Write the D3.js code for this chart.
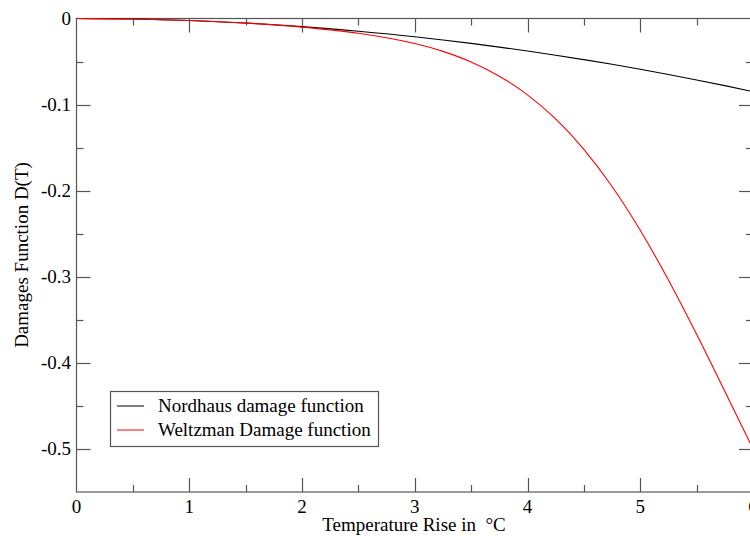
<!DOCTYPE html>
<html>
<head>
<meta charset="utf-8">
<script src="https://cdn.jsdelivr.net/npm/d3@7"></script>
<style>
  body { margin: 0; background: #fff; }
  text { font-family: "Liberation Serif", "Times New Roman", serif; }
</style>
</head>
<body>
<script>
// temperature rise (deg C) sampled along the curves
var temps = [0, 0.5, 1, 1.5, 2, 2.5, 3, 3.25, 3.5, 3.75, 4, 4.25, 4.5, 4.75, 5, 5.25, 5.5, 5.75, 6];
// values
var nordhaus = [0, -0.0006, -0.0024, -0.0053, -0.0094, -0.0148, -0.0212, -0.0249, -0.0289, -0.0332, -0.0378, -0.0426, -0.0478, -0.0532, -0.059, -0.0651, -0.0714, -0.078, -0.085];
var weitzman = [0, -0.0006, -0.0024, -0.0054, -0.0100, -0.0171, -0.0291, -0.0382, -0.0505, -0.067, -0.0887, -0.1167, -0.152, -0.1951, -0.246, -0.3038, -0.3669, -0.4331, -0.4999];
var xTicks = [0, 1, 2, 3, 4, 5, 6];
var yTicks = [0, -0.1, -0.2, -0.3, -0.4, -0.5];
var yTickLabels = ["0", "-0.1", "-0.2", "-0.3", "-0.4", "-0.5"];
var seriesNames = ["Nordhaus damage function", "Weltzman Damage function"];
var seriesColors = ["#000000", "#ff0000"];

var width = 750,
    height = 536;

var margin = {left: 76.5, top: 18.5, right: 753, bottom: 492};

var x = d3.scaleLinear().domain([0, 6]).range([margin.left, margin.right]);
var y = d3.scaleLinear().domain([0, -0.55]).range([margin.top, margin.bottom]);

var svg = d3.select("body").append("svg")
    .attr("width", width)
    .attr("height", height);

var axisColor = "#555";
var fontSize = 19;

// minor ticks every half unit / 0.05
var xMinor = d3.range(0, 6.01, 0.5).filter(function(d) { return d % 1 !== 0; });
var yMinor = d3.range(1, 11, 2).map(function(d) { return -d * 0.05; });

// frame
svg.append("rect")
    .attr("x", margin.left)
    .attr("y", margin.top)
    .attr("width", margin.right - margin.left)
    .attr("height", margin.bottom - margin.top)
    .attr("fill", "none")
    .attr("stroke", axisColor)
    .attr("stroke-width", 1.2);

var ticks = svg.append("g").attr("stroke", axisColor).attr("stroke-width", 1.2);

function xTickLines(vals, len) {
  vals.forEach(function(d) {
    var px = Math.round(x(d)) + 0.5;
    ticks.append("line").attr("x1", px).attr("x2", px)
        .attr("y1", margin.bottom).attr("y2", margin.bottom - len);
    ticks.append("line").attr("x1", px).attr("x2", px)
        .attr("y1", margin.top).attr("y2", margin.top + len);
  });
}
function yTickLines(vals, len) {
  vals.forEach(function(d) {
    var py = Math.round(y(d)) + 0.5;
    ticks.append("line").attr("y1", py).attr("y2", py)
        .attr("x1", margin.left).attr("x2", margin.left + len);
    ticks.append("line").attr("y1", py).attr("y2", py)
        .attr("x1", margin.right).attr("x2", margin.right - len);
  });
}
xTickLines(xTicks.slice(1, -1), 14);
xTickLines(xMinor, 7);
yTickLines(yTicks.slice(1), 14);
yTickLines(yMinor, 7);

// tick labels
svg.selectAll(".xlab")
    .data(xTicks)
  .enter().append("text")
    .attr("class", "xlab")
    .attr("x", function(d) { return x(d); })
    .attr("y", 513)
    .attr("text-anchor", "middle")
    .attr("font-size", fontSize)
    .text(function(d) { return d; });

svg.selectAll(".ylab")
    .data(yTicks)
  .enter().append("text")
    .attr("class", "ylab")
    .attr("x", 71)
    .attr("y", function(d) { return y(d) + 6; })
    .attr("text-anchor", "end")
    .attr("font-size", fontSize)
    .text(function(d, i) { return yTickLabels[i]; });

// axis titles
svg.append("text")
    .attr("x", 414)
    .attr("y", 531)
    .attr("text-anchor", "middle")
    .attr("font-size", fontSize)
    .text("Temperature Rise in \u00a0\u00b0C");

svg.append("text")
    .attr("transform", "translate(28," + 255 + ") rotate(-90)")
    .attr("text-anchor", "middle")
    .attr("font-size", fontSize)
    .text("Damages Function D(T)");

// curves
var line = d3.line()
    .x(function(d) { return x(d[0]); })
    .y(function(d) { return y(d[1]); })
    .curve(d3.curveMonotoneX);

var plot = svg.append("g");
plot.append("clipPath").attr("id", "clip")
  .append("rect")
    .attr("x", margin.left).attr("y", margin.top - 2)
    .attr("width", margin.right - margin.left).attr("height", margin.bottom - margin.top + 2);

[nordhaus, weitzman].forEach(function(vals, i) {
  plot.append("path")
      .datum(d3.zip(temps, vals))
      .attr("clip-path", "url(#clip)")
      .attr("fill", "none")
      .attr("stroke", seriesColors[i])
      .attr("stroke-width", 1.1)
      .attr("d", line);
});

// legend
var legend = svg.append("g");
legend.append("rect")
    .attr("x", 110.5).attr("y", 391.5)
    .attr("width", 268).attr("height", 55)
    .attr("fill", "#fff")
    .attr("stroke", axisColor)
    .attr("stroke-width", 1.2);

seriesNames.forEach(function(name, i) {
  var ly = 406 + i * 24;
  legend.append("line")
      .attr("x1", 117).attr("x2", 144)
      .attr("y1", ly).attr("y2", ly)
      .attr("stroke", seriesColors[i])
      .attr("stroke-width", 1);
  legend.append("text")
      .attr("x", 158)
      .attr("y", ly + 6)
      .attr("font-size", fontSize)
      .text(name);
});
</script>
</body>
</html>
